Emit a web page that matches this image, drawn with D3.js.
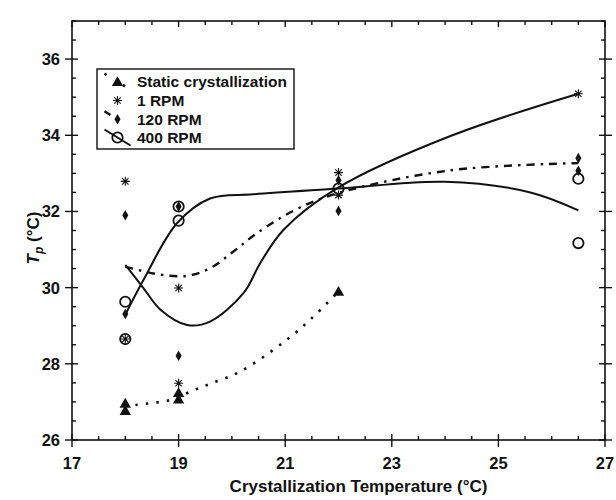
<!DOCTYPE html>
<html>
<head>
<meta charset="utf-8">
<script src="https://cdn.jsdelivr.net/npm/d3@7"></script>
<style>
  body { margin: 0; background: #fff; }
  svg text { font-family: "Liberation Sans", Arial, sans-serif; font-weight: bold; fill: #111; }
</style>
</head>
<body>
<div id="chart"></div>
<script>
// measured points (crystallization temperature, Tp)
var staticPts = [[18, 26.96], [18, 26.77], [19, 27.24], [19, 27.07], [22, 29.9]];
var rpm1Pts = [[18, 32.79], [18, 28.65], [19, 29.99], [19, 27.49], [22, 33.02], [22, 32.43], [26.5, 35.09]];
var rpm120Pts = [[18, 31.9], [18, 29.31], [19, 28.21], [19, 32.13], [22, 32.82], [22, 32.01], [26.5, 33.4], [26.5, 33.07]];
var rpm400Pts = [[18, 29.63], [18, 28.65], [19, 32.13], [19, 31.76], [22, 32.6], [26.5, 32.86], [26.5, 31.17]];

// fitted curves
var staticFit = [[18.19, 26.92], [18.91, 27.07], [19.22, 27.27], [19.62, 27.49], [20.16, 27.8], [21.0, 28.6], [21.5, 29.2], [22, 29.9]];
var rpm1Fit = [[18, 30.6], [18.34, 29.99], [18.66, 29.42], [19.16, 29.02], [19.59, 29.11], [20.22, 29.86], [20.53, 30.64], [20.97, 31.52], [22, 32.63], [24.1, 33.98], [26.5, 35.09]];
var rpm120Fit = [[18, 30.55], [18.66, 30.34], [19.16, 30.31], [19.59, 30.51], [20.03, 30.95], [20.47, 31.43], [21.2, 32.05], [21.99, 32.48], [24.1, 33.08], [26.5, 33.27]];
var rpm400Fit = [[18, 29.29], [18.34, 30.2], [18.97, 31.69], [19.59, 32.34], [20.4, 32.45], [22, 32.6], [24, 32.78], [25.6, 32.5], [26.5, 32.03]];

var seriesNames = ["Static crystallization", "1 RPM", "120 RPM", "400 RPM"];
var xTickLabels = [17, 19, 21, 23, 25, 27];
var yTickLabels = [26, 28, 30, 32, 34, 36];

var width = 616, height = 500;
var margin = {top: 21, right: 11, bottom: 60, left: 72};

var svg = d3.select("#chart").append("svg")
  .attr("width", width).attr("height", height);

var x = d3.scaleLinear().domain([17, 27]).range([margin.left, width - margin.right]);
var y = d3.scaleLinear().domain([26, 37]).range([height - margin.bottom, margin.top]);

var x0 = x.range()[0], x1 = x.range()[1], y0 = y.range()[0], y1 = y.range()[1];

// frame
svg.append("rect")
  .attr("x", x0).attr("y", y1)
  .attr("width", x1 - x0).attr("height", y0 - y1)
  .attr("fill", "none").attr("stroke", "#111").attr("stroke-width", 1.6);

var minorX = d3.range(17, 27.01, 0.5);
var minorY = d3.range(26, 37.01, 0.5);

var ticks = svg.append("g").attr("stroke", "#111").attr("stroke-width", 1.4);
minorX.forEach(function(v) {
  var major = xTickLabels.indexOf(v) >= 0;
  // bottom
  ticks.append("line").attr("x1", x(v)).attr("x2", x(v))
    .attr("y1", y0 - (major ? 6 : 4)).attr("y2", y0 + (major ? 7 : 0));
  // top
  ticks.append("line").attr("x1", x(v)).attr("x2", x(v))
    .attr("y1", y1).attr("y2", y1 + (major ? 6 : 4));
});
minorY.forEach(function(v) {
  var major = yTickLabels.indexOf(v) >= 0;
  ticks.append("line").attr("y1", y(v)).attr("y2", y(v))
    .attr("x1", x0 - (major ? 7 : 0)).attr("x2", x0 + (major ? 6 : 4));
  ticks.append("line").attr("y1", y(v)).attr("y2", y(v))
    .attr("x1", x1 - (major ? 6 : 4)).attr("x2", x1 + (major ? 7 : 0));
});

svg.append("g").selectAll("text").data(xTickLabels).join("text")
  .attr("x", d => x(d)).attr("y", y0 + 29)
  .attr("text-anchor", "middle").attr("font-size", 16.5)
  .text(d => d);

svg.append("g").selectAll("text").data(yTickLabels).join("text")
  .attr("x", x0 - 12).attr("y", d => y(d) + 6)
  .attr("text-anchor", "end").attr("font-size", 16.5)
  .text(d => d);

svg.append("text")
  .attr("x", (x0 + x1) / 2 + 20).attr("y", 492)
  .attr("text-anchor", "middle").attr("font-size", 17)
  .text("Crystallization Temperature (°C)");

var yl = svg.append("text")
  .attr("transform", "translate(39,238) rotate(-90)")
  .attr("text-anchor", "middle").attr("font-size", 17);
yl.append("tspan").attr("font-style", "italic").text("T");
yl.append("tspan").attr("font-style", "italic").attr("font-size", 12).attr("dy", 4).text("p");
yl.append("tspan").attr("dy", -4).text(" (°C)");

// curves
var line = d3.line().x(d => x(d[0])).y(d => y(d[1])).curve(d3.curveCatmullRom.alpha(0.5));
var styles = [
  {data: staticFit, dash: "2.5,8", w: 2.6},
  {data: rpm1Fit, dash: null, w: 2},
  {data: rpm120Fit, dash: "8,6,2.5,6", w: 2.4},
  {data: rpm400Fit, dash: null, w: 2}
];
svg.append("g").selectAll("path").data(styles).join("path")
  .attr("d", d => line(d.data))
  .attr("fill", "none").attr("stroke", "#111")
  .attr("stroke-width", d => d.w)
  .attr("stroke-dasharray", d => d.dash);

// markers
function asterisk(s) {
  var p = d3.path();
  for (var i = 0; i < 4; i++) {
    var a = i * Math.PI / 4;
    p.moveTo(-s * Math.cos(a), -s * Math.sin(a));
    p.lineTo(s * Math.cos(a), s * Math.sin(a));
  }
  return p.toString();
}
var tri = d3.symbol().type(d3.symbolTriangle).size(56)();
var dia = d3.symbol().type(d3.symbolDiamond).size(32)();

function drawMarker(g, kind, cx, cy) {
  if (kind === 0) {
    g.append("path").attr("d", tri).attr("transform", "translate(" + cx + "," + (cy + 1) + ")")
      .attr("fill", "#111");
  } else if (kind === 1) {
    g.append("path").attr("d", asterisk(4.5)).attr("transform", "translate(" + cx + "," + cy + ")")
      .attr("stroke", "#111").attr("stroke-width", 1.1).attr("fill", "none");
  } else if (kind === 2) {
    g.append("path").attr("d", dia).attr("transform", "translate(" + cx + "," + cy + ")")
      .attr("fill", "#111");
  } else {
    g.append("circle").attr("cx", cx).attr("cy", cy).attr("r", 5.2)
      .attr("fill", "none").attr("stroke", "#111").attr("stroke-width", 1.8);
  }
}

var mk = svg.append("g");
[staticPts, rpm1Pts, rpm120Pts, rpm400Pts].forEach(function(pts, k) {
  pts.forEach(function(d) { drawMarker(mk, k, x(d[0]), y(d[1])); });
});

// legend
var lg = svg.append("g");
lg.append("rect").attr("x", 97).attr("y", 69).attr("width", 197).attr("height", 80)
  .attr("fill", "#fff").attr("stroke", "#111").attr("stroke-width", 1.4);
var rowY = [81.7, 100.5, 119.3, 137.5];
seriesNames.forEach(function(name, i) {
  var sx = 117.5, sy = rowY[i];
  if (i !== 1) {
    lg.append("line")
      .attr("x1", sx - 13).attr("y1", sy - 8).attr("x2", sx + 13).attr("y2", sy + 8)
      .attr("stroke", "#111").attr("stroke-width", styles[i].w)
      .attr("stroke-dasharray", i === 0 ? "2.5,19" : i === 2 ? "7,40" : null);
  }
  drawMarker(lg, i, sx, sy);
  lg.append("text").attr("x", 137).attr("y", sy + 5.5).attr("font-size", 15.5).text(name);
});
</script>
</body>
</html>
